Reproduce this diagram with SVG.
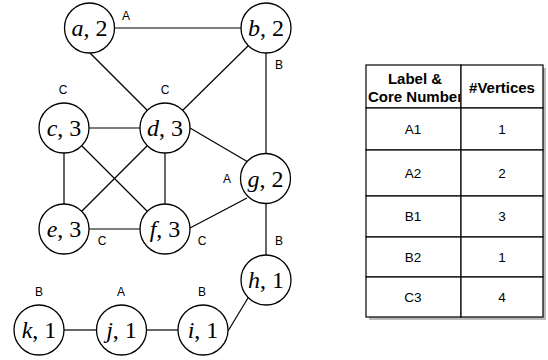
<svg xmlns="http://www.w3.org/2000/svg" width="548" height="360" viewBox="0 0 548 360">
<style>
.edge{stroke:#000;stroke-width:1.2;fill:none}
.node circle{fill:#fff;stroke:#000;stroke-width:1.3}
.node text{font-family:"Liberation Serif","DejaVu Serif",serif;font-size:24px;text-anchor:middle}
.lbl{font-family:"Liberation Sans",Arial,sans-serif;font-size:12px;text-anchor:middle}
.cell{fill:#fff;stroke:#000;stroke-width:1.2}
.th{font-family:"Liberation Sans",Arial,sans-serif;font-size:15px;font-weight:bold;text-anchor:middle}
.td{font-family:"Liberation Sans",Arial,sans-serif;font-size:13.5px;text-anchor:middle}
</style>
<defs><clipPath id="c1"><rect x="366" y="65" width="94" height="43"/></clipPath></defs>
<rect width="548" height="360" fill="#fff"/>
<g id="connectors">
<line class="edge" x1="115" y1="28" x2="241" y2="28"/>
<line class="edge" x1="90" y1="53" x2="147" y2="110"/>
<line class="edge" x1="248" y1="46" x2="183" y2="110"/>
<line class="edge" x1="266" y1="53" x2="266" y2="153"/>
<line class="edge" x1="89" y1="128" x2="140" y2="128"/>
<line class="edge" x1="64" y1="153" x2="64" y2="204"/>
<line class="edge" x1="165" y1="153" x2="165" y2="204"/>
<line class="edge" x1="82" y1="146" x2="147" y2="211"/>
<line class="edge" x1="147" y1="146" x2="82" y2="211"/>
<line class="edge" x1="190" y1="128" x2="248" y2="162"/>
<line class="edge" x1="89" y1="229" x2="140" y2="229"/>
<line class="edge" x1="190" y1="228" x2="247" y2="198"/>
<line class="edge" x1="266" y1="204" x2="266" y2="255"/>
<line class="edge" x1="248" y1="298" x2="228" y2="331"/>
<line class="edge" x1="147" y1="330" x2="178" y2="330"/>
<line class="edge" x1="64" y1="330" x2="96" y2="330"/>
</g>
<g id="node-a" class="node"><circle cx="89.5" cy="28" r="25"/><text x="89.5" y="36"><tspan font-style="italic">a</tspan>, 2</text></g>
<g id="node-b" class="node"><circle cx="266" cy="28" r="25"/><text x="266" y="36"><tspan font-style="italic">b</tspan>, 2</text></g>
<g id="node-c" class="node"><circle cx="64" cy="128" r="25"/><text x="64" y="136"><tspan font-style="italic">c</tspan>, 3</text></g>
<g id="node-d" class="node"><circle cx="165" cy="128" r="25"/><text x="165" y="136"><tspan font-style="italic">d</tspan>, 3</text></g>
<g id="node-e" class="node"><circle cx="64" cy="229" r="25"/><text x="64" y="237"><tspan font-style="italic">e</tspan>, 3</text></g>
<g id="node-f" class="node"><circle cx="165" cy="229" r="25"/><text x="165" y="237"><tspan font-style="italic">f</tspan>, 3</text></g>
<g id="node-g" class="node"><circle cx="265.5" cy="178.5" r="25"/><text x="265.5" y="186.5"><tspan font-style="italic">g</tspan>, 2</text></g>
<g id="node-h" class="node"><circle cx="266" cy="280" r="25"/><text x="266" y="288"><tspan font-style="italic">h</tspan>, 1</text></g>
<g id="node-i" class="node"><circle cx="203" cy="330" r="25"/><text x="203" y="338"><tspan font-style="italic">i</tspan>, 1</text></g>
<g id="node-j" class="node"><circle cx="121.5" cy="330" r="25"/><text x="121.5" y="338"><tspan font-style="italic">j</tspan>, 1</text></g>
<g id="node-k" class="node"><circle cx="39" cy="330" r="25"/><text x="39" y="338"><tspan font-style="italic">k</tspan>, 1</text></g>
<g id="labels">
<text class="lbl" x="126" y="20">A</text>
<text class="lbl" x="279" y="69">B</text>
<text class="lbl" x="63" y="94">C</text>
<text class="lbl" x="165" y="94">C</text>
<text class="lbl" x="227" y="183">A</text>
<text class="lbl" x="102" y="245">C</text>
<text class="lbl" x="202" y="245">C</text>
<text class="lbl" x="279" y="245">B</text>
<text class="lbl" x="39" y="296">B</text>
<text class="lbl" x="121" y="296">A</text>
<text class="lbl" x="202" y="296">B</text>
</g>
<g id="table">
<rect x="369" y="68" width="177" height="252" fill="#bbb"/>
<rect class="cell" x="366" y="65" width="95" height="43"/>
<rect class="cell" x="461" y="65" width="82" height="43"/>
<rect class="cell" x="366" y="108" width="95" height="42"/>
<rect class="cell" x="461" y="108" width="82" height="42"/>
<rect class="cell" x="366" y="150" width="95" height="46"/>
<rect class="cell" x="461" y="150" width="82" height="46"/>
<rect class="cell" x="366" y="196" width="95" height="41"/>
<rect class="cell" x="461" y="196" width="82" height="41"/>
<rect class="cell" x="366" y="237" width="95" height="40"/>
<rect class="cell" x="461" y="237" width="82" height="40"/>
<rect class="cell" x="366" y="277" width="95" height="40"/>
<rect class="cell" x="461" y="277" width="82" height="40"/>
<g clip-path="url(#c1)">
<text class="th" x="415" y="84">Label &amp;</text>
<text class="th" x="368" y="102" style="text-anchor:start">Core Number</text>
</g>
<text class="th" x="502" y="93">#Vertices</text>
<text class="td" x="413" y="134">A1</text>
<text class="td" x="502" y="134">1</text>
<text class="td" x="413" y="178">A2</text>
<text class="td" x="502" y="178">2</text>
<text class="td" x="413" y="221">B1</text>
<text class="td" x="502" y="221">3</text>
<text class="td" x="413" y="262">B2</text>
<text class="td" x="502" y="262">1</text>
<text class="td" x="413" y="302">C3</text>
<text class="td" x="502" y="302">4</text>
</g>
</svg>
